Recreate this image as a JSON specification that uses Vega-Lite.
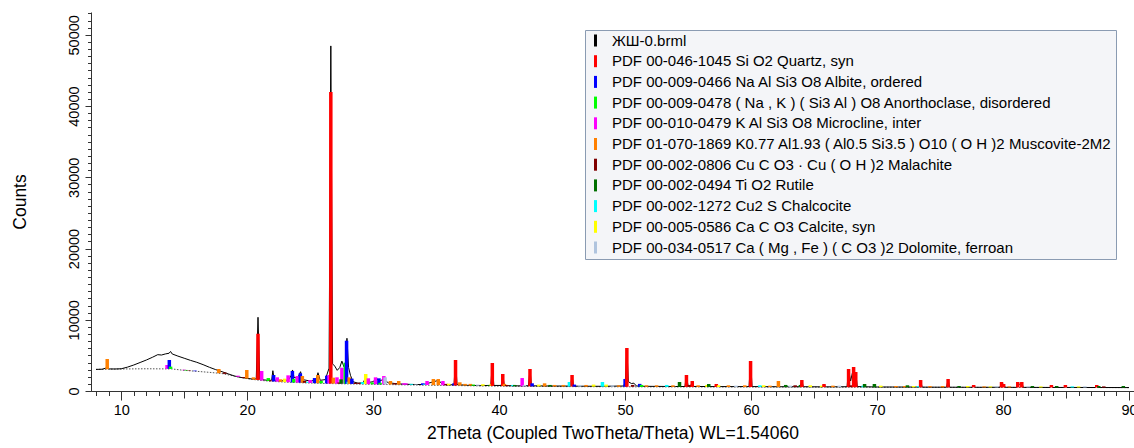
{
  "$schema": "https://vega.github.io/schema/vega-lite/v6.json",
  "width": 1043,
  "height": 379,
  "autosize": {"type": "none"},
  "padding": {"left": 91, "top": 12, "right": 0, "bottom": 57},
  "config": {
    "view": {"stroke": null},
    "font": "Liberation Sans",
    "axis": {"domainColor": "#333333", "tickColor": "#333333", "labelColor": "#000000", "titleColor": "#000000", "grid": false, "labelFont": "Liberation Sans", "titleFont": "Liberation Sans", "titleFontWeight": "normal", "labelFontSize": 14.5, "titleFontSize": 17.5}
  },
  "datasets": {
    "phases": [
      {"code": "L", "phase": "ЖШ-0.brml"},
      {"code": "Q", "phase": "PDF 00-046-1045 Si O2 Quartz, syn"},
      {"code": "A", "phase": "PDF 00-009-0466 Na Al Si3 O8 Albite, ordered"},
      {"code": "N", "phase": "PDF 00-009-0478 ( Na , K ) ( Si3 Al ) O8 Anorthoclase, disordered"},
      {"code": "M", "phase": "PDF 00-010-0479 K Al Si3 O8 Microcline, inter"},
      {"code": "Mu", "phase": "PDF 01-070-1869 K0.77 Al1.93 ( Al0.5 Si3.5 ) O10 ( O H )2 Muscovite-2M2"},
      {"code": "Ma", "phase": "PDF 00-002-0806 Cu C O3 · Cu ( O H )2 Malachite"},
      {"code": "R", "phase": "PDF 00-002-0494 Ti O2 Rutile"},
      {"code": "C", "phase": "PDF 00-002-1272 Cu2 S Chalcocite"},
      {"code": "Ca", "phase": "PDF 00-005-0586 Ca C O3 Calcite, syn"},
      {"code": "D", "phase": "PDF 00-034-0517 Ca ( Mg , Fe ) ( C O3 )2 Dolomite, ferroan"}
    ],
    "background": [
      {"angle": 8, "counts": 3030}, {"angle": 10, "counts": 3090}, {"angle": 12, "counts": 3120}, {"angle": 14, "counts": 3100},
      {"angle": 15, "counts": 2900}, {"angle": 16, "counts": 2760}, {"angle": 17, "counts": 2620}, {"angle": 18, "counts": 2450},
      {"angle": 19, "counts": 2080}, {"angle": 20, "counts": 1730}, {"angle": 21, "counts": 1500}, {"angle": 22, "counts": 1350},
      {"angle": 23, "counts": 1250}, {"angle": 24, "counts": 1180}, {"angle": 25, "counts": 1120}, {"angle": 26, "counts": 1070},
      {"angle": 27, "counts": 1030}, {"angle": 28, "counts": 1000}, {"angle": 29, "counts": 970}, {"angle": 30, "counts": 940},
      {"angle": 32, "counts": 880}, {"angle": 35, "counts": 800}, {"angle": 40, "counts": 680}, {"angle": 45, "counts": 620},
      {"angle": 50, "counts": 590}, {"angle": 55, "counts": 570}, {"angle": 60, "counts": 560}, {"angle": 65, "counts": 545},
      {"angle": 70, "counts": 530}, {"angle": 75, "counts": 515}, {"angle": 80, "counts": 500}, {"angle": 85, "counts": 490},
      {"angle": 90, "counts": 480}
    ],
    "measured": [
      {"angle": 8.0, "counts": 3030}, {"angle": 8.5, "counts": 3060}, {"angle": 8.75, "counts": 3200}, {"angle": 8.9, "counts": 3350},
      {"angle": 9.05, "counts": 3100}, {"angle": 9.5, "counts": 3090}, {"angle": 10.0, "counts": 3120}, {"angle": 10.5, "counts": 3350},
      {"angle": 11.0, "counts": 3650}, {"angle": 11.5, "counts": 4000}, {"angle": 12.0, "counts": 4350}, {"angle": 12.5, "counts": 4750},
      {"angle": 12.9, "counts": 5100}, {"angle": 13.2, "counts": 5050}, {"angle": 13.5, "counts": 5200}, {"angle": 13.8, "counts": 5300},
      {"angle": 13.92, "counts": 5550}, {"angle": 14.05, "counts": 5200}, {"angle": 14.5, "counts": 4900}, {"angle": 15.0, "counts": 4600},
      {"angle": 15.5, "counts": 4300}, {"angle": 16.0, "counts": 4030}, {"angle": 16.5, "counts": 3700}, {"angle": 17.0, "counts": 3330},
      {"angle": 17.5, "counts": 3000}, {"angle": 18.0, "counts": 2710}, {"angle": 18.5, "counts": 2400}, {"angle": 19.0, "counts": 2100},
      {"angle": 19.5, "counts": 1900}, {"angle": 20.0, "counts": 1780}, {"angle": 20.4, "counts": 1680}, {"angle": 20.72, "counts": 1700},
      {"angle": 20.86, "counts": 10350}, {"angle": 21.0, "counts": 1650}, {"angle": 21.4, "counts": 1550}, {"angle": 21.8, "counts": 1450},
      {"angle": 21.95, "counts": 1600}, {"angle": 22.04, "counts": 2850}, {"angle": 22.15, "counts": 1550}, {"angle": 22.5, "counts": 1420},
      {"angle": 23.0, "counts": 1450}, {"angle": 23.3, "counts": 1600}, {"angle": 23.5, "counts": 2200}, {"angle": 23.6, "counts": 2950},
      {"angle": 23.72, "counts": 1900}, {"angle": 24.0, "counts": 1800}, {"angle": 24.24, "counts": 2710}, {"angle": 24.4, "counts": 1600},
      {"angle": 25.0, "counts": 1400}, {"angle": 25.45, "counts": 1500}, {"angle": 25.62, "counts": 2570}, {"angle": 25.8, "counts": 1500},
      {"angle": 26.2, "counts": 1600}, {"angle": 26.5, "counts": 3200}, {"angle": 26.64, "counts": 48440}, {"angle": 26.78, "counts": 3800},
      {"angle": 26.95, "counts": 3500}, {"angle": 27.15, "counts": 2900}, {"angle": 27.35, "counts": 3300}, {"angle": 27.52, "counts": 4200},
      {"angle": 27.68, "counts": 3400}, {"angle": 27.8, "counts": 3900}, {"angle": 27.92, "counts": 7400}, {"angle": 28.05, "counts": 3300},
      {"angle": 28.2, "counts": 2200}, {"angle": 28.4, "counts": 1300}, {"angle": 28.8, "counts": 1100}, {"angle": 29.2, "counts": 1150},
      {"angle": 29.42, "counts": 1900}, {"angle": 29.6, "counts": 1200}, {"angle": 30.0, "counts": 1300}, {"angle": 30.25, "counts": 1800},
      {"angle": 30.5, "counts": 1400}, {"angle": 30.85, "counts": 1650}, {"angle": 31.2, "counts": 1150}, {"angle": 32.0, "counts": 1000},
      {"angle": 33.0, "counts": 920}, {"angle": 34.0, "counts": 900}, {"angle": 34.9, "counts": 1350}, {"angle": 35.2, "counts": 1500},
      {"angle": 35.5, "counts": 950}, {"angle": 36.0, "counts": 850}, {"angle": 36.42, "counts": 900}, {"angle": 36.54, "counts": 4300},
      {"angle": 36.66, "counts": 900}, {"angle": 37.5, "counts": 800}, {"angle": 38.5, "counts": 760}, {"angle": 39.34, "counts": 780},
      {"angle": 39.46, "counts": 3900}, {"angle": 39.58, "counts": 780}, {"angle": 40.17, "counts": 780}, {"angle": 40.29, "counts": 2350},
      {"angle": 40.41, "counts": 760}, {"angle": 41.5, "counts": 720}, {"angle": 42.33, "counts": 740}, {"angle": 42.45, "counts": 3050},
      {"angle": 42.57, "counts": 730}, {"angle": 44.0, "counts": 700}, {"angle": 45.67, "counts": 690}, {"angle": 45.79, "counts": 2200},
      {"angle": 45.91, "counts": 680}, {"angle": 48.0, "counts": 660}, {"angle": 49.9, "counts": 700}, {"angle": 50.02, "counts": 1500},
      {"angle": 50.14, "counts": 6000}, {"angle": 50.26, "counts": 1300}, {"angle": 50.5, "counts": 1050}, {"angle": 50.7, "counts": 1100},
      {"angle": 50.9, "counts": 700}, {"angle": 51.5, "counts": 660}, {"angle": 54.0, "counts": 630}, {"angle": 54.75, "counts": 630},
      {"angle": 54.87, "counts": 2200}, {"angle": 55.0, "counts": 700}, {"angle": 55.21, "counts": 700}, {"angle": 55.33, "counts": 1350},
      {"angle": 55.45, "counts": 640}, {"angle": 57.12, "counts": 620}, {"angle": 57.24, "counts": 950}, {"angle": 57.36, "counts": 620},
      {"angle": 59.84, "counts": 620}, {"angle": 59.96, "counts": 4100}, {"angle": 60.08, "counts": 620}, {"angle": 62.0, "counts": 600},
      {"angle": 63.91, "counts": 600}, {"angle": 64.03, "counts": 1500}, {"angle": 64.15, "counts": 600}, {"angle": 65.67, "counts": 580},
      {"angle": 65.79, "counts": 950}, {"angle": 65.91, "counts": 580}, {"angle": 67.62, "counts": 600}, {"angle": 67.74, "counts": 3000},
      {"angle": 67.9, "counts": 1400}, {"angle": 68.14, "counts": 3300}, {"angle": 68.23, "counts": 1900}, {"angle": 68.31, "counts": 2600},
      {"angle": 68.43, "counts": 620}, {"angle": 70.0, "counts": 560}, {"angle": 73.34, "counts": 550}, {"angle": 73.46, "counts": 1500},
      {"angle": 73.58, "counts": 540}, {"angle": 75.52, "counts": 530}, {"angle": 75.64, "counts": 1650}, {"angle": 75.76, "counts": 530},
      {"angle": 77.55, "counts": 520}, {"angle": 77.67, "counts": 820}, {"angle": 77.79, "counts": 520}, {"angle": 79.76, "counts": 520},
      {"angle": 79.88, "counts": 1250}, {"angle": 79.98, "counts": 900}, {"angle": 80.05, "counts": 950}, {"angle": 80.17, "counts": 520},
      {"angle": 81.05, "counts": 510}, {"angle": 81.17, "counts": 1200}, {"angle": 81.32, "counts": 900}, {"angle": 81.49, "counts": 1150},
      {"angle": 81.61, "counts": 510}, {"angle": 83.72, "counts": 500}, {"angle": 83.84, "counts": 800}, {"angle": 83.96, "counts": 500},
      {"angle": 84.83, "counts": 500}, {"angle": 84.95, "counts": 800}, {"angle": 85.07, "counts": 500}, {"angle": 87.32, "counts": 490},
      {"angle": 87.44, "counts": 800}, {"angle": 87.56, "counts": 490}, {"angle": 90.0, "counts": 480}
    ],
    "sticks": [
      {"code": "Mu", "angle": 8.89, "base": 3060, "top": 4490},
      {"code": "M", "angle": 13.64, "base": 3110, "top": 3650},
      {"code": "A", "angle": 13.82, "base": 3105, "top": 4350},
      {"code": "N", "angle": 13.92, "base": 3100, "top": 3420},
      {"code": "M", "angle": 15.0, "base": 2900, "top": 2990},
      {"code": "N", "angle": 15.13, "base": 2880, "top": 2960},
      {"code": "Ma", "angle": 15.39, "base": 2840, "top": 2900},
      {"code": "A", "angle": 15.86, "base": 2780, "top": 2860},
      {"code": "Mu", "angle": 17.75, "base": 2500, "top": 3090},
      {"code": "Ma", "angle": 18.22, "base": 2400, "top": 2600},
      {"code": "M", "angle": 19.27, "base": 2000, "top": 2150},
      {"code": "Ma", "angle": 19.71, "base": 1830, "top": 1950},
      {"code": "Mu", "angle": 19.97, "base": 1740, "top": 2950},
      {"code": "Mu", "angle": 20.5, "base": 1620, "top": 1920},
      {"code": "Mu", "angle": 20.74, "base": 1570, "top": 1700},
      {"code": "Q", "angle": 20.86, "base": 1550, "top": 8040},
      {"code": "M", "angle": 21.15, "base": 1480, "top": 2810},
      {"code": "N", "angle": 21.68, "base": 1400, "top": 1820},
      {"code": "Ma", "angle": 21.86, "base": 1370, "top": 1500},
      {"code": "A", "angle": 22.1, "base": 1340, "top": 2250},
      {"code": "M", "angle": 22.39, "base": 1310, "top": 1920},
      {"code": "Mu", "angle": 22.65, "base": 1280, "top": 1640},
      {"code": "Ca", "angle": 22.98, "base": 1250, "top": 1730},
      {"code": "M", "angle": 23.25, "base": 1230, "top": 2200},
      {"code": "A", "angle": 23.59, "base": 1210, "top": 2810},
      {"code": "N", "angle": 23.7, "base": 1200, "top": 1700},
      {"code": "M", "angle": 23.98, "base": 1180, "top": 2100},
      {"code": "A", "angle": 24.22, "base": 1170, "top": 2480},
      {"code": "Mu", "angle": 24.38, "base": 1160, "top": 2100},
      {"code": "Ma", "angle": 24.56, "base": 1150, "top": 1400},
      {"code": "C", "angle": 24.82, "base": 1130, "top": 1300},
      {"code": "M", "angle": 25.0, "base": 1120, "top": 1540},
      {"code": "A", "angle": 25.35, "base": 1100, "top": 1820},
      {"code": "Mu", "angle": 25.61, "base": 1090, "top": 2250},
      {"code": "N", "angle": 25.87, "base": 1080, "top": 1400},
      {"code": "A", "angle": 26.32, "base": 1060, "top": 2150},
      {"code": "M", "angle": 26.5, "base": 1055, "top": 2250},
      {"code": "Q", "angle": 26.64, "base": 1050, "top": 41980},
      {"code": "Mu", "angle": 26.84, "base": 1040, "top": 1870},
      {"code": "M", "angle": 27.13, "base": 1025, "top": 1920},
      {"code": "Ma", "angle": 27.3, "base": 1020, "top": 1200},
      {"code": "M", "angle": 27.52, "base": 1015, "top": 3270},
      {"code": "R", "angle": 27.45, "base": 1015, "top": 1640},
      {"code": "N", "angle": 27.79, "base": 1005, "top": 3970},
      {"code": "A", "angle": 27.89, "base": 1000, "top": 7060},
      {"code": "C", "angle": 28.02, "base": 998, "top": 1300},
      {"code": "Mu", "angle": 28.1, "base": 995, "top": 1920},
      {"code": "A", "angle": 28.31, "base": 990, "top": 1730},
      {"code": "Ma", "angle": 28.6, "base": 985, "top": 1150},
      {"code": "Ma", "angle": 28.9, "base": 975, "top": 1150},
      {"code": "C", "angle": 29.15, "base": 965, "top": 1250},
      {"code": "Ca", "angle": 29.41, "base": 960, "top": 2390},
      {"code": "M", "angle": 29.62, "base": 955, "top": 1780},
      {"code": "N", "angle": 29.93, "base": 945, "top": 1200},
      {"code": "M", "angle": 30.19, "base": 940, "top": 1920},
      {"code": "A", "angle": 30.46, "base": 935, "top": 1780},
      {"code": "N", "angle": 30.55, "base": 932, "top": 1150},
      {"code": "M", "angle": 30.85, "base": 925, "top": 2100},
      {"code": "D", "angle": 30.95, "base": 925, "top": 1920},
      {"code": "Mu", "angle": 31.37, "base": 915, "top": 1400},
      {"code": "Ma", "angle": 31.72, "base": 905, "top": 1100},
      {"code": "Mu", "angle": 32.03, "base": 895, "top": 1400},
      {"code": "M", "angle": 32.43, "base": 890, "top": 1080},
      {"code": "M", "angle": 32.6, "base": 888, "top": 1080},
      {"code": "C", "angle": 33.03, "base": 875, "top": 1000},
      {"code": "D", "angle": 33.4, "base": 865, "top": 950},
      {"code": "A", "angle": 33.94, "base": 850, "top": 1080},
      {"code": "C", "angle": 34.08, "base": 848, "top": 950},
      {"code": "M", "angle": 34.28, "base": 840, "top": 1400},
      {"code": "Mu", "angle": 34.78, "base": 825, "top": 1680},
      {"code": "Mu", "angle": 35.17, "base": 810, "top": 1680},
      {"code": "M", "angle": 35.54, "base": 800, "top": 1400},
      {"code": "Ma", "angle": 35.8, "base": 795, "top": 1000},
      {"code": "Ca", "angle": 36.0, "base": 790, "top": 1030},
      {"code": "A", "angle": 36.42, "base": 778, "top": 1080},
      {"code": "Q", "angle": 36.54, "base": 775, "top": 4350},
      {"code": "Mu", "angle": 36.88, "base": 770, "top": 1220},
      {"code": "Mu", "angle": 37.3, "base": 760, "top": 1000},
      {"code": "Mu", "angle": 37.72, "base": 750, "top": 1000},
      {"code": "N", "angle": 37.95, "base": 745, "top": 900},
      {"code": "D", "angle": 38.3, "base": 735, "top": 900},
      {"code": "Ca", "angle": 38.71, "base": 725, "top": 950},
      {"code": "R", "angle": 39.2, "base": 715, "top": 850},
      {"code": "Ca", "angle": 39.38, "base": 712, "top": 1000},
      {"code": "Q", "angle": 39.46, "base": 710, "top": 3930},
      {"code": "Q", "angle": 40.29, "base": 690, "top": 2390},
      {"code": "Mu", "angle": 40.42, "base": 688, "top": 1000},
      {"code": "Ma", "angle": 40.6, "base": 685, "top": 850},
      {"code": "C", "angle": 41.1, "base": 675, "top": 850},
      {"code": "R", "angle": 41.24, "base": 673, "top": 850},
      {"code": "M", "angle": 41.83, "base": 665, "top": 1820},
      {"code": "D", "angle": 42.0, "base": 660, "top": 850},
      {"code": "Q", "angle": 42.45, "base": 655, "top": 3090},
      {"code": "A", "angle": 42.62, "base": 650, "top": 1080},
      {"code": "Ca", "angle": 43.15, "base": 645, "top": 900},
      {"code": "Mu", "angle": 43.61, "base": 640, "top": 1080},
      {"code": "R", "angle": 44.04, "base": 635, "top": 850},
      {"code": "Mu", "angle": 44.4, "base": 630, "top": 850},
      {"code": "Mu", "angle": 45.1, "base": 622, "top": 850},
      {"code": "C", "angle": 45.58, "base": 620, "top": 1260},
      {"code": "Q", "angle": 45.79, "base": 618, "top": 2250},
      {"code": "A", "angle": 45.97, "base": 617, "top": 900},
      {"code": "D", "angle": 46.4, "base": 614, "top": 850},
      {"code": "Mu", "angle": 46.9, "base": 611, "top": 850},
      {"code": "Ca", "angle": 47.5, "base": 607, "top": 900},
      {"code": "C", "angle": 48.2, "base": 602, "top": 1260},
      {"code": "Ca", "angle": 48.5, "base": 600, "top": 900},
      {"code": "D", "angle": 49.0, "base": 597, "top": 800},
      {"code": "Mu", "angle": 49.5, "base": 594, "top": 800},
      {"code": "A", "angle": 50.0, "base": 590, "top": 1680},
      {"code": "Q", "angle": 50.14, "base": 590, "top": 6040},
      {"code": "Ma", "angle": 50.6, "base": 588, "top": 850},
      {"code": "A", "angle": 51.16, "base": 585, "top": 1000},
      {"code": "N", "angle": 51.3, "base": 584, "top": 850},
      {"code": "Mu", "angle": 51.7, "base": 583, "top": 800},
      {"code": "Mu", "angle": 52.5, "base": 580, "top": 800},
      {"code": "C", "angle": 53.31, "base": 578, "top": 850},
      {"code": "Mu", "angle": 53.8, "base": 575, "top": 800},
      {"code": "R", "angle": 54.32, "base": 573, "top": 1260},
      {"code": "Q", "angle": 54.87, "base": 570, "top": 2250},
      {"code": "Ma", "angle": 55.1, "base": 570, "top": 850},
      {"code": "Q", "angle": 55.33, "base": 569, "top": 1400},
      {"code": "Mu", "angle": 55.8, "base": 568, "top": 800},
      {"code": "Ca", "angle": 56.5, "base": 566, "top": 850},
      {"code": "R", "angle": 56.64, "base": 566, "top": 980},
      {"code": "Q", "angle": 57.24, "base": 565, "top": 980},
      {"code": "Ca", "angle": 57.42, "base": 565, "top": 800},
      {"code": "Mu", "angle": 58.2, "base": 563, "top": 800},
      {"code": "D", "angle": 58.8, "base": 562, "top": 750},
      {"code": "Mu", "angle": 59.5, "base": 561, "top": 800},
      {"code": "Q", "angle": 59.96, "base": 560, "top": 4210},
      {"code": "C", "angle": 60.7, "base": 558, "top": 800},
      {"code": "Ca", "angle": 61.0, "base": 557, "top": 800},
      {"code": "Mu", "angle": 61.5, "base": 556, "top": 750},
      {"code": "Mu", "angle": 62.17, "base": 555, "top": 1400},
      {"code": "R", "angle": 62.75, "base": 553, "top": 850},
      {"code": "D", "angle": 63.1, "base": 552, "top": 750},
      {"code": "Ma", "angle": 63.5, "base": 551, "top": 800},
      {"code": "R", "angle": 63.92, "base": 550, "top": 850},
      {"code": "Q", "angle": 64.03, "base": 550, "top": 1540},
      {"code": "Ca", "angle": 64.7, "base": 548, "top": 800},
      {"code": "Ca", "angle": 65.6, "base": 546, "top": 750},
      {"code": "Q", "angle": 65.79, "base": 546, "top": 980},
      {"code": "Mu", "angle": 66.5, "base": 543, "top": 750},
      {"code": "D", "angle": 67.0, "base": 541, "top": 750},
      {"code": "Q", "angle": 67.74, "base": 538, "top": 3090},
      {"code": "Ma", "angle": 67.95, "base": 537, "top": 800},
      {"code": "Q", "angle": 68.14, "base": 536, "top": 3370},
      {"code": "Q", "angle": 68.31, "base": 535, "top": 2670},
      {"code": "C", "angle": 68.9, "base": 534, "top": 750},
      {"code": "R", "angle": 69.01, "base": 533, "top": 980},
      {"code": "R", "angle": 69.79, "base": 530, "top": 980},
      {"code": "Ca", "angle": 70.3, "base": 529, "top": 750},
      {"code": "Mu", "angle": 71.5, "base": 525, "top": 700},
      {"code": "Mu", "angle": 72.2, "base": 523, "top": 700},
      {"code": "R", "angle": 72.41, "base": 522, "top": 800},
      {"code": "Ca", "angle": 72.9, "base": 521, "top": 700},
      {"code": "C", "angle": 73.3, "base": 520, "top": 700},
      {"code": "Q", "angle": 73.46, "base": 520, "top": 1540},
      {"code": "Mu", "angle": 74.2, "base": 517, "top": 700},
      {"code": "Mu", "angle": 75.2, "base": 514, "top": 700},
      {"code": "Q", "angle": 75.64, "base": 513, "top": 1680},
      {"code": "R", "angle": 76.51, "base": 510, "top": 700},
      {"code": "Ca", "angle": 77.2, "base": 508, "top": 700},
      {"code": "Q", "angle": 77.67, "base": 507, "top": 840},
      {"code": "Mu", "angle": 78.5, "base": 505, "top": 650},
      {"code": "Ca", "angle": 79.0, "base": 503, "top": 650},
      {"code": "D", "angle": 79.5, "base": 501, "top": 650},
      {"code": "Q", "angle": 79.88, "base": 500, "top": 1260},
      {"code": "Q", "angle": 80.05, "base": 500, "top": 980},
      {"code": "Mu", "angle": 80.5, "base": 499, "top": 650},
      {"code": "Q", "angle": 81.17, "base": 498, "top": 1260},
      {"code": "Q", "angle": 81.49, "base": 497, "top": 1260},
      {"code": "D", "angle": 82.0, "base": 496, "top": 650},
      {"code": "R", "angle": 82.33, "base": 495, "top": 700},
      {"code": "Ca", "angle": 83.0, "base": 494, "top": 650},
      {"code": "Q", "angle": 83.84, "base": 494, "top": 840},
      {"code": "R", "angle": 84.26, "base": 492, "top": 700},
      {"code": "Q", "angle": 84.95, "base": 490, "top": 840},
      {"code": "C", "angle": 85.5, "base": 489, "top": 650},
      {"code": "Ca", "angle": 86.0, "base": 488, "top": 650},
      {"code": "D", "angle": 86.5, "base": 487, "top": 650},
      {"code": "Q", "angle": 87.44, "base": 485, "top": 840},
      {"code": "R", "angle": 87.6, "base": 485, "top": 700},
      {"code": "Ma", "angle": 88.0, "base": 484, "top": 650},
      {"code": "R", "angle": 89.55, "base": 481, "top": 700}
    ]
  },
  "resolve": {"axis": {"x": "independent", "y": "independent"}},
  "layer": [
    {
      "data": {"name": "background"},
      "mark": {"type": "line", "color": "#555555", "strokeWidth": 1, "strokeDash": [1.5, 1.5]},
      "encoding": {
        "x": {"field": "angle", "type": "quantitative", "scale": {"domain": [8, 90], "nice": false, "zero": false},
              "axis": {"orient": "bottom", "values": [8,9,10,11,12,13,14,15,16,17,18,19,20,21,22,23,24,25,26,27,28,29,30,31,32,33,34,35,36,37,38,39,40,41,42,43,44,45,46,47,48,49,50,51,52,53,54,55,56,57,58,59,60,61,62,63,64,65,66,67,68,69,70,71,72,73,74,75,76,77,78,79,80,81,82,83,84,85,86,87,88,89,90], "tickSize": 4.5, "labels": false, "domain": false, "title": null}},
        "y": {"field": "counts", "type": "quantitative", "scale": {"domain": [0, 53200], "nice": false},
              "axis": {"orient": "left", "values": [0,1000,2000,3000,4000,5000,6000,7000,8000,9000,10000,11000,12000,13000,14000,15000,16000,17000,18000,19000,20000,21000,22000,23000,24000,25000,26000,27000,28000,29000,30000,31000,32000,33000,34000,35000,36000,37000,38000,39000,40000,41000,42000,43000,44000,45000,46000,47000,48000,49000,50000,51000,52000,53000], "tickSize": 3.5, "labels": false, "domain": false, "title": null}}
      }
    },
    {
      "data": {"name": "measured"},
      "mark": {"type": "line", "color": "#000000", "strokeWidth": 1},
      "encoding": {
        "x": {"field": "angle", "type": "quantitative",
              "axis": {"orient": "bottom", "values": [15,25,35,45,55,65,75,85], "tickSize": 7, "labels": false, "domain": false, "title": null}},
        "y": {"field": "counts", "type": "quantitative", "axis": null}
      }
    },
    {
      "data": {"name": "sticks"},
      "transform": [
        {"lookup": "code", "from": {"data": {"name": "phases"}, "key": "code", "fields": ["phase"]}}
      ],
      "mark": {"type": "bar", "width": 3.5},
      "encoding": {
        "x": {"field": "angle", "type": "quantitative",
              "axis": {"orient": "bottom", "values": [10,20,30,40,50,60,70,80,90], "tickSize": 9, "labelPadding": 3, "labelFlush": false, "labelOverlap": false, "title": "2Theta (Coupled TwoTheta/Theta) WL=1.54060", "titlePadding": 8}},
        "y": {"field": "top", "type": "quantitative",
              "axis": {"orient": "left", "values": [0,10000,20000,30000,40000,50000], "format": "d", "tickSize": 6, "labelAngle": -90, "labelAlign": "center", "labelBaseline": "bottom", "labelPadding": 4, "title": "Counts", "titlePadding": 37}},
        "y2": {"field": "base"},
        "color": {
          "field": "phase", "type": "nominal",
          "scale": {
            "domain": ["ЖШ-0.brml", "PDF 00-046-1045 Si O2 Quartz, syn", "PDF 00-009-0466 Na Al Si3 O8 Albite, ordered", "PDF 00-009-0478 ( Na , K ) ( Si3 Al ) O8 Anorthoclase, disordered", "PDF 00-010-0479 K Al Si3 O8 Microcline, inter", "PDF 01-070-1869 K0.77 Al1.93 ( Al0.5 Si3.5 ) O10 ( O H )2 Muscovite-2M2", "PDF 00-002-0806 Cu C O3 · Cu ( O H )2 Malachite", "PDF 00-002-0494 Ti O2 Rutile", "PDF 00-002-1272 Cu2 S Chalcocite", "PDF 00-005-0586 Ca C O3 Calcite, syn", "PDF 00-034-0517 Ca ( Mg , Fe ) ( C O3 )2 Dolomite, ferroan"],
            "range": ["#000000", "#ff0000", "#0000ff", "#00ff00", "#ff00ff", "#ff8000", "#800000", "#007000", "#00ffff", "#ffff00", "#b0c4de"]
          },
          "legend": {"orient": "none", "direction": "vertical", "legendX": 494, "legendY": 18, "title": null,
                     "symbolType": "M-0.25,-1H0.25V1H-0.25Z", "symbolSize": 144, "symbolStrokeWidth": 0,
                     "labelFont": "Liberation Sans", "labelFontSize": 15, "labelColor": "#000000", "labelLimit": 700, "labelOffset": 9,
                     "fillColor": "#f4f5f8", "strokeColor": "#8a9bb2", "padding": 3, "rowPadding": 4.7}
        }
      }
    }
  ]
}
